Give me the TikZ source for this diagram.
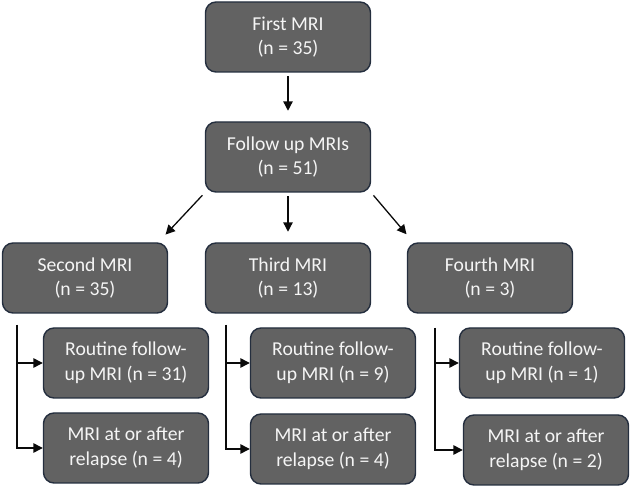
\documentclass[tikz,border=0pt]{standalone}
\usepackage{fontspec}
\setmainfont{Carlito}
\usepackage{xcolor}
\usetikzlibrary{arrows.meta,positioning}
\definecolor{boxfill}{RGB}{98,98,98}
\definecolor{boxborder}{RGB}{36,46,62}
\definecolor{boxtext}{RGB}{245,245,245}
\definecolor{linecol}{RGB}{10,10,10}

\tikzset{
    mribox/.style={fill=boxfill, draw=boxborder, line width=1.2pt, rounded corners=9pt,
        text=boxtext, align=center, minimum width=4.95cm, minimum height=2.1cm,
        inner sep=2pt, font=\fontsize{16.8}{21}\selectfont},
    flow/.style={linecol, line width=1.1pt, ->}
}

\begin{document}
\begin{tikzpicture}[x=0.03cm, y=-0.03cm,
    >={Triangle[length=8pt, width=8pt]}
]

\useasboundingbox (0,0) rectangle (630,487);

% Top level
\node[mribox] (FIRST) at (288,37) {First MRI\\(n = 35)};
\node[mribox] (FOLLOW) at (288,157) {Follow up MRIs\\(n = 51)};
\draw[flow, shorten <=3pt, shorten >=9pt] (FIRST) -- (FOLLOW);

% Second level
\node[mribox] (SECOND) at (85,278) {Second MRI\\(n = 35)};
\node[mribox] (THIRD) at (288,278) {Third MRI\\(n = 13)};
\node[mribox] (FOURTH) at (490,278) {Fourth MRI\\(n = 3)};

\draw[flow, shorten <=3pt, shorten >=9pt] (FOLLOW.south west) -- ([xshift=2.2cm]SECOND.north);
\draw[flow, shorten <=3pt, shorten >=9pt] (FOLLOW) -- (THIRD);
\draw[flow, shorten <=3pt, shorten >=9pt] (FOLLOW.south east) -- ([xshift=-2.3cm]FOURTH.north);

% Sub boxes
\node[mribox] (ROUT2) at (126,363) {Routine follow-\\up MRI (n = 31)};
\node[mribox] (RELAP2) at (126,448) {MRI at or after\\relapse (n = 4)};
\node[mribox] (ROUT3) at (333,363) {Routine follow-\\up MRI (n = 9)};
\node[mribox] (RELAP3) at (333,449) {MRI at or after\\relapse (n = 4)};
\node[mribox] (ROUT4) at (542,363) {Routine follow-\\up MRI (n = 1)};
\node[mribox] (RELAP4) at (546,450) {MRI at or after\\relapse (n = 2)};

% Branch lines
\coordinate (B2) at (17,325);
\coordinate (B3) at (226,325);
\coordinate (B4) at (435,328);
\foreach \i in {2,3,4} {
    \draw[flow] (B\i) |- (ROUT\i.west);
    \draw[flow] (B\i) |- (RELAP\i.west);
}

\end{tikzpicture}
\end{document}
